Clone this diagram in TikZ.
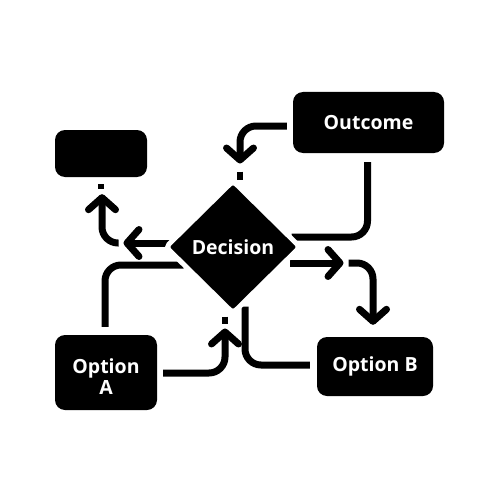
\documentclass[tikz,border=0pt]{standalone}
\usepackage{fontspec}
\setmainfont{Open Sans}
\usetikzlibrary{shapes.geometric,arrows.meta,calc}
\pgfdeclarelayer{bg}
\pgfdeclarelayer{paper}
\pgfsetlayers{paper,bg,main}
\begin{document}
\begin{tikzpicture}[x=1pt,y=-1pt,
  box/.style={fill=black,rounded corners=10pt,text=white,font=\fontsize{19.5}{22}\selectfont\bfseries,align=center,inner sep=0pt},
  deci/.style={diamond,fill=black,draw=white,line width=5pt,rounded corners=4pt,minimum width=136pt,minimum height=134pt,inner sep=0pt,text=white,font=\fontsize{19.5}{22}\selectfont\bfseries},
  conn/.style={line width=7pt,rounded corners=16pt},
  tip/.style={-{Straight Barb[length=12pt,width=27pt,round]}},
  stub/.style={line width=6pt}]
\begin{pgfonlayer}{paper}
\fill[white] (0,0) rectangle (500,500);
\end{pgfonlayer}
\useasboundingbox (0,0) rectangle (500,500);
\node[box,minimum width=151pt,minimum height=61pt] (out) at (368.5,122.5) {Outcome};
\node[box,minimum width=92pt,minimum height=47pt] (blank) at (101,153.5) {};
\node[box,minimum width=102pt,minimum height=75pt] (optA) at (106,372.5) {\rule{0pt}{23pt}Option\\[-1pt]A};
\node[box,minimum width=116pt,minimum height=59pt] (optB) at (375,366.5) {Option B};
\node[deci] (dec) at (233,247) {Decision};
\begin{pgfonlayer}{bg}
% Outcome -> Decision (top)
\draw[conn,tip] ([shift={(-6,3.5)}]out.west) -| ([shift={(7,-14)}]dec.north);
% Decision -> blank box
\draw[conn,tip] ([shift={(12,-4)}]dec.west) -- ([shift={(-39,-4)}]dec.west);
\draw[conn,tip] ([shift={(-44,-4)}]dec.west) -| ([shift={(1,17)}]blank.south);
% Outcome -> Decision (right)
\draw[conn] ([shift={(-1,9)}]out.south) |- ([shift={(-12,-10)}]dec.east);
% Decision -> Option B
\draw[conn,tip] ([shift={(-14,16)}]dec.east) -- ([shift={(40,16)}]dec.east);
\draw[conn,tip] ([shift={(45,16)}]dec.east) -| ([shift={(-2,-12)}]optB.north);
% Option A -> Decision (left)
\draw[conn] ([shift={(-1,-8)}]optA.north) |- ([shift={(21,18)}]dec.west);
% Option A -> Decision (bottom)
\draw[conn,tip] ([shift={(6,0.5)}]optA.east) -| ([shift={(-8,12)}]dec.south);
% Option B -> Decision (bottom)
\draw[conn] ([shift={(-7,-1.5)}]optB.west) -| ([shift={(12,-10)}]dec.south);
\end{pgfonlayer}
% stubs
\draw[stub] ([shift={(0,7)}]blank.south) -- ([shift={(0,12)}]blank.south);
\draw[stub] ([shift={(7,-6)}]dec.north) -- ([shift={(7,2)}]dec.north);
\draw[stub] ([shift={(-8,0)}]dec.south) -- ([shift={(-8,7)}]dec.south);
\end{tikzpicture}
\end{document}
